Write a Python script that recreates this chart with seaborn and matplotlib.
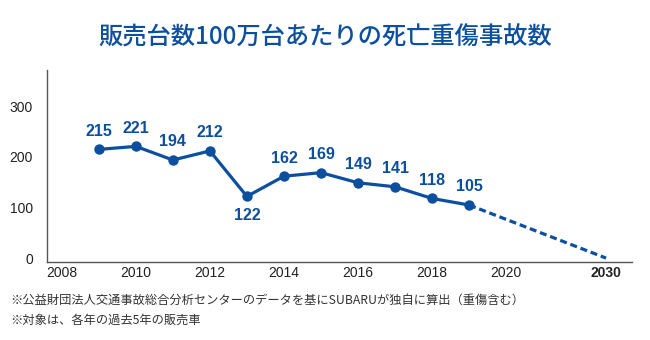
import matplotlib
matplotlib.use("Agg")
import matplotlib.pyplot as plt
import seaborn as sns
import pandas as pd

years = [2009, 2010, 2011, 2012, 2013, 2014, 2015, 2016, 2017, 2018, 2019]
values = [215, 221, 194, 212, 122, 162, 169, 149, 141, 118, 105]
target_year = 2030
target_value = 0
tick_years = [2008, 2010, 2012, 2014, 2016, 2018, 2020, 2030]
y_ticks = [0, 100, 200, 300]
label_below = [2013]

title = "販売台数100万台あたりの死亡重傷事故数"
notes = ["※公益財団法人交通事故総合分析センターのデータを基にSUBARUが独自に算出（重傷含む）",
         "※対象は、各年の過去5年の販売車"]

BLUE = "#0c4f9f"

def xpos(y):
    # broken axis: 2030 compressed near the right end
    return y if y <= 2020 else 2022.7

sns.set_theme(style="white")
plt.rcParams["font.family"] = ["Liberation Sans", "DejaVu Sans"]

fig = plt.figure(figsize=(6.5, 3.4), dpi=100)
ax = fig.add_axes([0.0723, 0.229, 0.9, 0.565])

df = pd.DataFrame({"x": [xpos(y) for y in years], "v": values})
sns.lineplot(data=df, x="x", y="v", ax=ax, color=BLUE, linewidth=2.3,
             marker="o", markersize=7.5, markeredgewidth=0)
df2 = pd.DataFrame({"x": [xpos(years[-1]), xpos(target_year)],
                    "v": [values[-1], target_value]})
sns.lineplot(data=df2, x="x", y="v", ax=ax, color=BLUE, linewidth=2.3,
             linestyle=(0, (2.2, 1.2)))

for yr, v in zip(years, values):
    off = -14 if yr in label_below else 13
    ax.annotate(str(v), (xpos(yr), v), xytext=(0, off), textcoords="offset points",
                ha="center", va="center", fontsize=11.5, fontweight="bold", color=BLUE)

ax.set_xlim(2007.6, 2023.4)
ax.set_ylim(-8, 372)
ax.set_xticks([xpos(y) for y in tick_years])
ax.set_xticklabels([str(y) for y in tick_years])
for lbl, y in zip(ax.get_xticklabels(), tick_years):
    if y == 2030:
        lbl.set_fontweight("bold")
ax.set_yticks(y_ticks)
ax.set_yticklabels([str(v) for v in y_ticks])
ax.tick_params(axis="both", length=0, labelsize=10, colors="#222222")
ax.tick_params(axis="x", pad=3)
ax.tick_params(axis="y", pad=10)
ax.set_xlabel("")
ax.set_ylabel("")
for s in ["top", "right"]:
    ax.spines[s].set_visible(False)
for s in ["left", "bottom"]:
    ax.spines[s].set_color("#555555")
    ax.spines[s].set_linewidth(1.0)

fig.text(0.5, 1 - 38 / 340, title, ha="center", va="center", fontsize=17.5,
         color=BLUE, fontweight="medium", family=["Noto Sans CJK JP", "DejaVu Sans"])
fig.text(10 / 650, 1 - 300 / 340, notes[0], ha="left", va="center", fontsize=8.8,
         color="#333333", family=["Noto Sans CJK JP", "DejaVu Sans"])
fig.text(10 / 650, 1 - 320 / 340, notes[1], ha="left", va="center", fontsize=8.8,
         color="#333333", family=["Noto Sans CJK JP", "DejaVu Sans"])

fig.savefig("out.png", dpi=100, facecolor="white")
